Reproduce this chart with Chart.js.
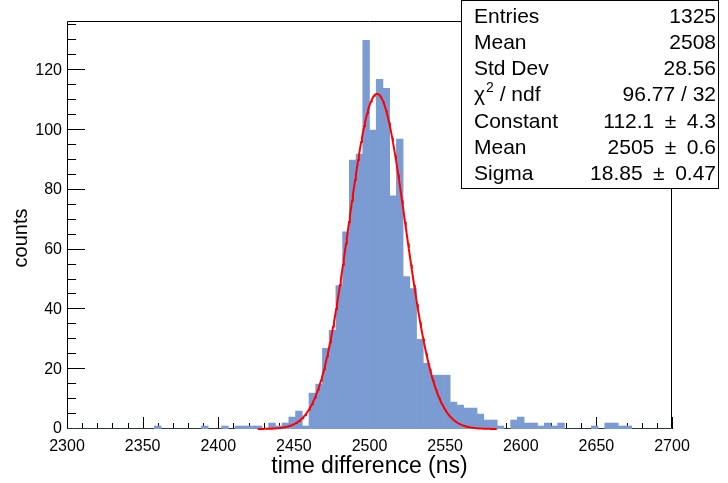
<!DOCTYPE html>
<html>
<head>
<meta charset="utf-8">
<title>time difference</title>
<script src="https://cdn.jsdelivr.net/npm/chart.js@4"></script>
<style>
  html, body { margin: 0; padding: 0; background: #fff; }
  canvas { display: block; }
</style>
</head>
<body>
<canvas id="histChart" width="728" height="483"></canvas>
<script>
// histogram: 90 equal bins between 2300 and 2700 ns
const binLow = 2300;
const binHigh = 2700;
const counts = [
  0, 0, 0, 0, 0, 0, 0, 0, 0, 0,
  0, 0, 0, 1, 0, 0, 0, 0, 0, 0,
  1, 0, 0, 1, 0, 1, 1, 1, 1, 0,
  2, 1, 2, 4, 6, 1, 12, 15, 27, 33,
  48, 66, 90, 92, 130, 100, 117, 114, 78, 97,
  51, 47, 30, 22, 18, 18, 18, 9, 8, 7,
  7, 5, 3, 3, 1, 0, 3, 4, 2, 2,
  1, 2, 1, 2, 0, 0, 0, 0, 1, 0,
  2, 2, 1, 1, 0, 0, 0, 0, 0, 0
];

const xTicks = [2300, 2350, 2400, 2450, 2500, 2550, 2600, 2650, 2700];
const yTicks = [0, 20, 40, 60, 80, 100, 120];
const yMax = 136.5;

// gaus fit shown in the stat box
const fitConstant = 112.1;
const fitMean = 2505;
const fitSigma = 18.85;
const fitRange = [2426, 2584];

const statNames = ['Entries', 'Mean', 'Std Dev', 'chi2', 'Constant', 'Mean', 'Sigma'];
const statValues = ['1325', '2508', '28.56', '96.77 / 32', '112.1\u2002\u00b1\u20024.3', '2505\u2002\u00b1\u20020.6', '18.85\u2002\u00b1\u20020.47'];

const FONT = '"Liberation Sans", Arial, Helvetica, sans-serif';

const binWidth = (binHigh - binLow) / counts.length;
const histPoints = counts.map((c, i) => ({ x: binLow + binWidth * (i + 0.5), y: c }));

const fitPoints = [];
for (let x = fitRange[0]; x <= fitRange[1]; x += 0.5) {
    const t = (x - fitMean) / fitSigma;
    fitPoints.push({ x: x, y: fitConstant * Math.exp(-0.5 * t * t) });
}

// ROOT style frame with ticks pointing inwards, plus the stat box
const rootFrame = {
    id: 'rootFrame',
    beforeDatasetsDraw(chart) {
        const { ctx, chartArea: a, scales } = chart;
        const xs = scales.x, ys = scales.y;
        ctx.save();
        ctx.strokeStyle = '#000';
        ctx.lineWidth = 1;
        ctx.beginPath();
        ctx.rect(Math.round(a.left) + 0.5, Math.round(a.top) + 0.5,
                 Math.round(a.right - a.left) - 1, Math.round(a.bottom - a.top) - 1);
        ctx.stroke();

        ctx.beginPath();
        for (let v = binLow; v <= binHigh; v += 10) {
            const px = Math.round(xs.getPixelForValue(v)) + 0.5;
            const len = (v % 50 === 0) ? 12 : 6;
            ctx.moveTo(px, a.bottom);
            ctx.lineTo(px, a.bottom - len);
        }
        for (let v = 0; v <= yMax; v += 5) {
            const py = Math.round(ys.getPixelForValue(v)) - 0.5;
            const len = (v % 20 === 0) ? 18 : 9;
            ctx.moveTo(a.left, py);
            ctx.lineTo(a.left + len, py);
        }
        ctx.stroke();
        ctx.restore();
    },
    afterDraw(chart) {
        const ctx = chart.ctx;

        // y axis title
        ctx.save();
        ctx.fillStyle = '#000';
        ctx.font = '20px ' + FONT;
        ctx.textAlign = 'center';
        ctx.textBaseline = 'middle';
        ctx.translate(21, 238);
        ctx.rotate(-Math.PI / 2);
        ctx.fillText('counts', 0, 0);
        ctx.restore();

        const box = { left: 461, top: 0, right: 719, bottom: 189 };
        ctx.save();
        ctx.fillStyle = '#fff';
        ctx.fillRect(box.left, box.top, box.right - box.left, box.bottom - box.top);
        ctx.strokeStyle = '#000';
        ctx.lineWidth = 1;
        ctx.strokeRect(box.left + 0.5, box.top + 0.5, box.right - box.left - 1, box.bottom - box.top - 1);

        ctx.fillStyle = '#000';
        ctx.textBaseline = 'middle';
        const rowH = 26.2;
        statNames.forEach((name, i) => {
            const y = 17 + rowH * i;
            ctx.font = '21px ' + FONT;
            ctx.textAlign = 'left';
            if (name === 'chi2') {
                ctx.fillText('\u03c7', 474, y);
                const w = ctx.measureText('\u03c7').width;
                ctx.font = '14px ' + FONT;
                ctx.fillText('2', 474 + w + 1, y - 7);
                const w2 = ctx.measureText('2').width;
                ctx.font = '21px ' + FONT;
                ctx.fillText(' / ndf', 474 + w + w2 + 1, y);
            } else {
                ctx.fillText(name, 474, y);
            }
            ctx.textAlign = 'right';
            ctx.fillText(statValues[i], 716, y);
        });
        ctx.restore();
    }
};

const ctx = document.getElementById('histChart');
new Chart(ctx, {
    type: 'bar',
    data: {
        datasets: [{
            type: 'line',
            data: fitPoints,
            borderColor: 'rgb(255, 0, 0)',
            borderWidth: 2,
            pointRadius: 0,
            fill: false,
            tension: 0,
            clip: 4,
            order: 0
        }, {
            type: 'bar',
            data: histPoints,
            backgroundColor: 'rgb(123, 155, 211)',
            borderWidth: 0,
            barPercentage: 1,
            categoryPercentage: 1,
            order: 1
        }]
    },
    options: {
        responsive: false,
        animation: false,
        devicePixelRatio: 1,
        layout: { padding: { left: 0, right: 56, top: 21, bottom: 0 } },
        plugins: {
            legend: { display: false },
            tooltip: { enabled: false }
        },
        scales: {
            x: {
                type: 'linear',
                min: binLow,
                max: binHigh,
                offset: false,
                grid: { display: false, drawTicks: false },
                border: { display: false },
                afterBuildTicks: s => { s.ticks = xTicks.map(v => ({ value: v })); },
                afterFit: s => { s.height = 54; },
                ticks: {
                    color: '#000',
                    padding: 8,
                    maxRotation: 0,
                    autoSkip: false,
                    font: { size: 16, family: FONT },
                    callback: v => String(v)
                },
                title: {
                    display: true,
                    text: 'time difference (ns)',
                    color: '#000',
                    font: { size: 23, family: FONT },
                    padding: { top: 0, bottom: 3 }
                }
            },
            y: {
                min: 0,
                max: yMax,
                grid: { display: false, drawTicks: false },
                border: { display: false },
                afterBuildTicks: s => { s.ticks = yTicks.map(v => ({ value: v })); },
                afterFit: s => { s.width = 67; },
                ticks: {
                    color: '#000',
                    padding: 5,
                    font: { size: 16, family: FONT }
                }
            }
        }
    },
    plugins: [rootFrame]
});
</script>
</body>
</html>
